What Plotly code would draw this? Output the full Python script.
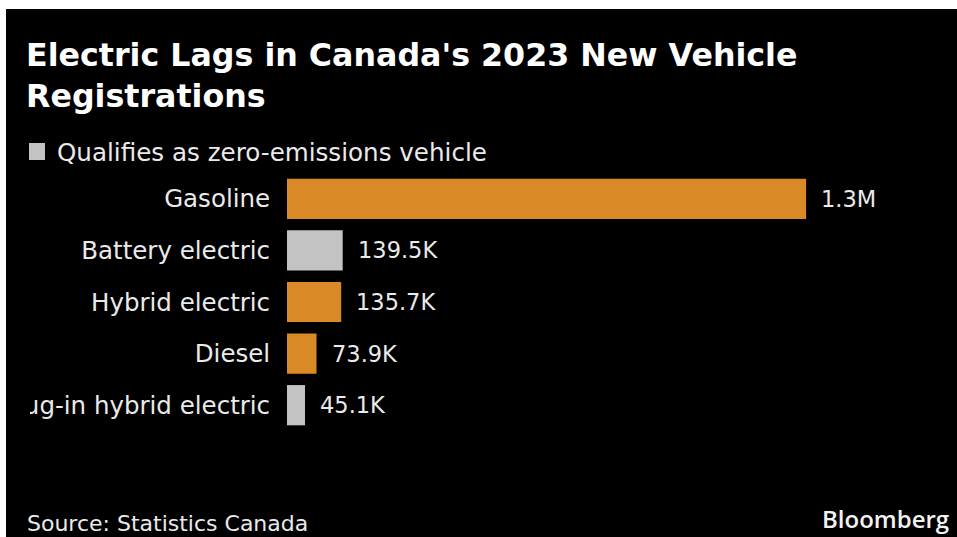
import plotly.graph_objects as go

# --- data -------------------------------------------------------------
categories = ["Gasoline", "Battery electric", "Hybrid electric", "Diesel",
              "Plug-in hybrid electric"]
registrations = [1300000, 139500, 135700, 73900, 45100]
zero_emission = [False, True, False, False, True]

title_text = "Electric Lags in Canada's 2023 New Vehicle<br>Registrations"
legend_label = "Qualifies as zero-emissions vehicle"
source_text = "Source: Statistics Canada"
brand_text = "Bloomberg"

# --- styling ----------------------------------------------------------
W, H = 957, 537
ML, MR, MT, MB = 287, 71, 173, 106
PLOT_W = W - ML - MR
PLOT_H = H - MT - MB
ORANGE = "#d98a27"
GREY = "#c3c3c3"
TEXT = "#eaeaea"
FONT = "DejaVu Sans"


def px_x(px):
    """Page pixel column -> paper x."""
    return (px - ML) / PLOT_W


def px_y(py):
    """Page pixel row -> paper y."""
    return (H - MB - py) / PLOT_H


def fmt(v):
    if v >= 1e6:
        return f"{v / 1e6:.1f}M"
    return f"{v / 1e3:.1f}K"


colors = [GREY if z else ORANGE for z in zero_emission]

fig = go.Figure(
    go.Bar(
        x=registrations,
        y=categories,
        orientation="h",
        marker=dict(color=colors, line=dict(width=0)),
        hoverinfo="skip",
    )
)

# value labels just past the end of each bar
for cat, val in zip(categories, registrations):
    fig.add_annotation(
        x=val, y=cat, xref="x", yref="y", text=fmt(val),
        showarrow=False, xanchor="left", yanchor="middle", xshift=13,
        font=dict(family=FONT, size=22.5, color=TEXT),
    )

# title
fig.add_annotation(
    x=px_x(24), y=px_y(75), xref="paper", yref="paper",
    text=title_text, showarrow=False, xanchor="left", yanchor="middle",
    align="left", font=dict(family=FONT, size=31.7, color="#ffffff", weight="bold"),
)

# legend: swatch + label
fig.add_shape(
    type="rect", xref="paper", yref="paper",
    x0=px_x(29), x1=px_x(45), y0=px_y(160), y1=px_y(143),
    fillcolor=GREY, line=dict(width=0), layer="above",
)
fig.add_annotation(
    x=px_x(55), y=px_y(152), xref="paper", yref="paper",
    text=legend_label, showarrow=False, xanchor="left", yanchor="middle",
    font=dict(family=FONT, size=24.6, color=TEXT),
)

# footer
fig.add_annotation(
    x=px_x(25), y=px_y(523), xref="paper", yref="paper",
    text=source_text, showarrow=False, xanchor="left", yanchor="middle",
    font=dict(family=FONT, size=22, color=TEXT),
)
fig.add_annotation(
    x=px_x(951), y=px_y(518), xref="paper", yref="paper",
    text=brand_text, showarrow=False, xanchor="right", yanchor="middle",
    font=dict(family="Open Sans", size=24, color="#f2f2f2", weight=600),
)

# black card on a white page, with a thin white edge at top and left
fig.add_shape(
    type="rect", xref="paper", yref="paper",
    x0=px_x(6), x1=px_x(W + 2), y0=px_y(H + 2), y1=px_y(9),
    fillcolor="#000000", line=dict(width=0), layer="below",
)
# the card's left edge crops the longest category label
fig.add_shape(
    type="rect", xref="paper", yref="paper",
    x0=px_x(6), x1=px_x(30), y0=px_y(425), y1=px_y(385),
    fillcolor="#000000", line=dict(width=0), layer="above",
)
fig.add_shape(
    type="rect", xref="paper", yref="paper",
    x0=px_x(-2), x1=px_x(6), y0=px_y(H + 2), y1=px_y(-2),
    fillcolor="#ffffff", line=dict(width=0), layer="above",
)

fig.update_layout(
    width=W, height=H,
    margin=dict(l=ML, r=MR, t=MT, b=MB, pad=0, autoexpand=False),
    paper_bgcolor="#ffffff",
    plot_bgcolor="rgba(0,0,0,0)",
    bargap=0.22,
    showlegend=False,
    xaxis=dict(range=[0, 1.5e6], visible=False, fixedrange=True,
               automargin=False),
    yaxis=dict(
        categoryorder="array", categoryarray=categories, autorange="reversed",
        showgrid=False, zeroline=False, showline=False, automargin=False,
        ticks="outside", ticklen=11, tickcolor="rgba(0,0,0,0)",
        tickfont=dict(family=FONT, size=24.5, color=TEXT),
        fixedrange=True,
    ),
)

fig.write_html("out.html", config={"displayModeBar": False})
